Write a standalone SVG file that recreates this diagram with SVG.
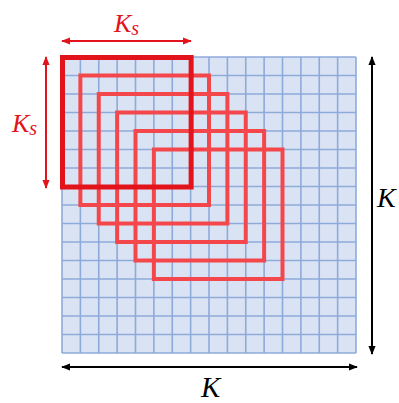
<svg xmlns="http://www.w3.org/2000/svg" width="399" height="403" viewBox="0 0 399 403">
<style>
.grid{stroke:#8eaadb;stroke-width:1.6;fill:none}
.win{fill:none;stroke:#f4474c;stroke-width:4}
.win0{fill:none;stroke:#e3131b;stroke-width:5}
.lbl{font-family:"Liberation Serif",serif;font-style:italic}
.red{fill:#e3131b}
</style>
<defs>
<marker id="ar" viewBox="0 0 10 10" refX="9" refY="5" markerWidth="4.5" markerHeight="4.5" orient="auto-start-reverse" markerUnits="strokeWidth"><path d="M0,1 L10,5 L0,9 z" fill="#e3131b"/></marker>
<marker id="ab" viewBox="0 0 10 10" refX="9" refY="5" markerWidth="4.5" markerHeight="4.5" orient="auto-start-reverse" markerUnits="strokeWidth"><path d="M0,1 L10,5 L0,9 z" fill="#000"/></marker>
</defs>
<g id="grid">
<rect x="62" y="57" width="294" height="296" fill="#dae3f3"/>
<path class="grid" d="M62,57V353M80.375,57V353M98.75,57V353M117.125,57V353M135.5,57V353M153.875,57V353M172.25,57V353M190.625,57V353M209,57V353M227.375,57V353M245.75,57V353M264.125,57V353M282.5,57V353M300.875,57V353M319.25,57V353M337.625,57V353M356,57V353
M62,57H356M62,75.5H356M62,94H356M62,112.5H356M62,131H356M62,149.5H356M62,168H356M62,186.5H356M62,205H356M62,223.5H356M62,242H356M62,260.5H356M62,279H356M62,297.5H356M62,316H356M62,334.5H356M62,353H356"/>
</g>
<g id="windows">
<rect class="win" x="153.875" y="149.5" width="128.625" height="129.5"/>
<rect class="win" x="135.5" y="131" width="128.625" height="129.5"/>
<rect class="win" x="117.125" y="112.5" width="128.625" height="129.5"/>
<rect class="win" x="98.75" y="94" width="128.625" height="129.5"/>
<rect class="win" x="80.375" y="75.5" width="128.625" height="129.5"/>
<rect class="win0" x="62.5" y="57.5" width="128.625" height="129.5"/>
</g>
<g id="connectors">
<line x1="62" y1="41" x2="191" y2="41" stroke="#e3131b" stroke-width="2" marker-start="url(#ar)" marker-end="url(#ar)"/>
<line x1="46" y1="57" x2="46" y2="188" stroke="#e3131b" stroke-width="2" marker-start="url(#ar)" marker-end="url(#ar)"/>
<line x1="372" y1="57" x2="372" y2="354" stroke="#000" stroke-width="2" marker-start="url(#ab)" marker-end="url(#ab)"/>
<line x1="62" y1="367" x2="357" y2="367" stroke="#000" stroke-width="2" marker-start="url(#ab)" marker-end="url(#ab)"/>
</g>
<g id="labels">
<text class="lbl red" x="114" y="32" font-size="26">K<tspan font-size="20" dy="3">s</tspan></text>
<text class="lbl red" x="12" y="132" font-size="26">K<tspan font-size="20" dy="3">s</tspan></text>
<text class="lbl" x="377" y="207" font-size="28">K</text>
<text class="lbl" x="201" y="397" font-size="29">K</text>
</g>
</svg>
